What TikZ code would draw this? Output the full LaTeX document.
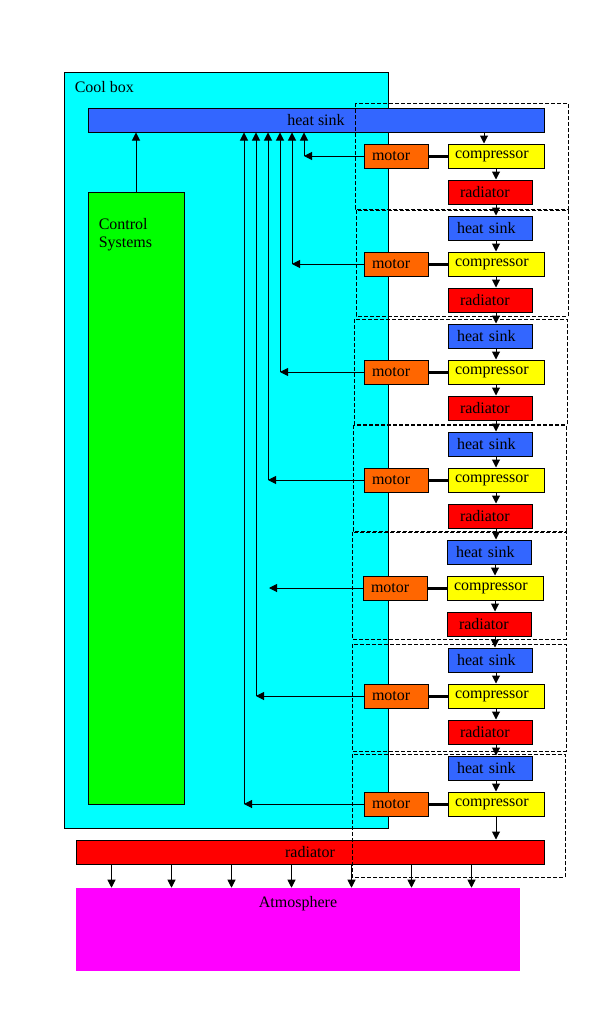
\documentclass[tikz,border=0pt]{standalone}
\usepackage{fontspec}
\setmainfont{Liberation Serif}
\usepackage{tikz}
\usetikzlibrary{positioning,arrows.meta,calc}
\definecolor{boxcyan}{HTML}{00FFFF}
\definecolor{sinkblue}{HTML}{3366FF}
\definecolor{ctrlgreen}{HTML}{00FF00}
\definecolor{compyellow}{HTML}{FFFF00}
\definecolor{radred}{HTML}{FF0000}
\definecolor{motororange}{HTML}{FF6600}
\definecolor{atmomagenta}{HTML}{FF00FF}
\begin{document}
\begin{tikzpicture}[
    x=0.75pt, y=-0.75pt,
    font=\fontsize{12pt}{13.5pt}\selectfont,
    part/.style     ={draw, line width=0.75pt, minimum height=18pt, inner ysep=0pt, align=left},
    motorbox/.style ={part, fill=motororange, text width=36pt, inner xsep=6pt},
    compbox/.style  ={part, fill=compyellow, text width=61.5pt, inner xsep=5.25pt},
    sinkbox/.style  ={part, fill=sinkblue, text width=49.5pt, inner xsep=6.75pt},
    radbox/.style   ={part, fill=radred, text width=45pt, inner xsep=9pt},
    arr/.style      ={-{Triangle[length=6pt, width=6pt]}, line width=0.75pt},
    shaft/.style    ={line width=2.25pt},
    frame/.style    ={line width=0.75pt, dash pattern=on 3pt off 1.5pt},
  ]
  \useasboundingbox (0,0) rectangle (601,1028);
  % cool box and its contents
  \node[draw, line width=0.75pt, fill=boxcyan, minimum width=243pt, minimum height=567pt, inner sep=0pt] (coolbox) at (226,450) {};
  \node[anchor=base west, inner sep=0pt] (coollabel) at ([xshift=8.25pt, yshift=-15.75pt]coolbox.north west) {Cool box};
  \node[draw, line width=0.75pt, fill=ctrlgreen, minimum width=72pt, minimum height=459pt, inner sep=0pt] (ctrl) at (136,498) {};
  \node[anchor=north west, inner sep=0pt, align=left] (ctrllabel) at ([xshift=8.25pt, yshift=-20pt]ctrl.north west) {Control\\Systems};
  \node[draw, line width=0.75pt, fill=sinkblue, minimum width=342pt, minimum height=18pt, inner sep=0pt] (topsink) at (316,120) {heat sink};
  \draw[arr] (ctrl.north) -- (ctrl.north |- topsink.south);
  % radiator and atmosphere
  \node[draw, line width=0.75pt, fill=radred, minimum width=351pt, minimum height=18pt, inner sep=0pt] (bigrad) at (310,852) {radiator};
  \node[fill=atmomagenta, minimum width=333pt, minimum height=62.25pt, inner sep=0pt] (atmos) at (298,929.5) {};
  \node[anchor=north, inner sep=0pt] (atmoslabel) at ([yshift=-6pt]atmos.north) {Atmosphere};
  \foreach \dx in {27,72,117,162,207,252,297}
    \draw[arr] ([xshift=\dx pt]bigrad.south west) -- ([xshift=\dx pt]bigrad.south west |- atmos.north);
  % unit frames
  \draw[frame] (355,103) rectangle (568,209);
  \draw[frame] (356,210) rectangle (568,316);
  \draw[frame] (354,319) rectangle (567,424);
  \draw[frame] (353,425) rectangle (566,531);
  \draw[frame] (352,532) rectangle (566,639);
  \draw[frame] (352,644) rectangle (566,751);
  \draw[frame] (352,754) rectangle (565,877);
  % unit 1
  \node[motorbox] (motor1) at (396,156) {motor};
  \node[compbox]  (comp1)  at (496,156) {compressor};
  \node[radbox]   (rad1)   at (490,192) {radiator};
  \draw[arr] ([xshift=-9pt]comp1.north |- topsink.south) -- ([xshift=-9pt]comp1.north);
  \draw[arr] (comp1.south) -- (comp1.south |- rad1.north);
  \draw[shaft] (motor1.east) -- (comp1.west);
  \coordinate (tap1) at (304,156);
  \draw[arr] (motor1.west) -- (tap1);
  \draw[arr] (tap1) -- (tap1 |- topsink.south);
  % unit 2
  \node[sinkbox]  (sink2)  at (490,228) {heat sink};
  \node[motorbox] (motor2) at (396,264) {motor};
  \node[compbox]  (comp2)  at (496,264) {compressor};
  \node[radbox]   (rad2)   at (490,300) {radiator};
  \draw[arr] (comp1.south |- rad1.south) -- (comp1.south |- sink2.north);
  \draw[arr] (comp2.north |- sink2.south) -- (comp2.north);
  \draw[arr] (comp2.south) -- (comp2.south |- rad2.north);
  \draw[shaft] (motor2.east) -- (comp2.west);
  \coordinate (tap2) at (292,264);
  \draw[arr] (motor2.west) -- (tap2);
  \draw[arr] (tap2) -- (tap2 |- topsink.south);
  % unit 3
  \node[sinkbox]  (sink3)  at (490,336) {heat sink};
  \node[motorbox] (motor3) at (396,372) {motor};
  \node[compbox]  (comp3)  at (496,372) {compressor};
  \node[radbox]   (rad3)   at (490,408) {radiator};
  \draw[arr] (comp2.south |- rad2.south) -- (comp2.south |- sink3.north);
  \draw[arr] (comp3.north |- sink3.south) -- (comp3.north);
  \draw[arr] (comp3.south) -- (comp3.south |- rad3.north);
  \draw[shaft] (motor3.east) -- (comp3.west);
  \coordinate (tap3) at (280,372);
  \draw[arr] (motor3.west) -- (tap3);
  \draw[arr] (tap3) -- (tap3 |- topsink.south);
  % unit 4
  \node[sinkbox]  (sink4)  at (490,444) {heat sink};
  \node[motorbox] (motor4) at (396,480) {motor};
  \node[compbox]  (comp4)  at (496,480) {compressor};
  \node[radbox]   (rad4)   at (490,516) {radiator};
  \draw[arr] (comp3.south |- rad3.south) -- (comp3.south |- sink4.north);
  \draw[arr] (comp4.north |- sink4.south) -- (comp4.north);
  \draw[arr] (comp4.south) -- (comp4.south |- rad4.north);
  \draw[shaft] (motor4.east) -- (comp4.west);
  \coordinate (tap4) at (268,480);
  \draw[arr] (motor4.west) -- (tap4);
  \draw[arr] (tap4) -- (tap4 |- topsink.south);
  % unit 5
  \node[sinkbox]  (sink5)  at (489,552) {heat sink};
  \node[motorbox] (motor5) at (395,588) {motor};
  \node[compbox]  (comp5)  at (495,588) {compressor};
  \node[radbox]   (rad5)   at (489,624) {radiator};
  \draw[arr] (comp4.south |- rad4.south) -- (comp4.south |- sink5.north);
  \draw[arr] (comp5.north |- sink5.south) -- (comp5.north);
  \draw[arr] (comp5.south) -- (comp5.south |- rad5.north);
  \draw[shaft] (motor5.east) -- (comp5.west);
  \coordinate (tap5) at (269,588);
  \draw[arr] (motor5.west) -- (tap5);
  % unit 6
  \node[sinkbox]  (sink6)  at (490,660) {heat sink};
  \node[motorbox] (motor6) at (396,696) {motor};
  \node[compbox]  (comp6)  at (496,696) {compressor};
  \node[radbox]   (rad6)   at (490,732) {radiator};
  \draw[arr] (comp5.south |- rad5.south) -- (comp5.south |- sink6.north);
  \draw[arr] (comp6.north |- sink6.south) -- (comp6.north);
  \draw[arr] (comp6.south) -- (comp6.south |- rad6.north);
  \draw[shaft] (motor6.east) -- (comp6.west);
  \coordinate (tap6) at (256,696);
  \draw[arr] (motor6.west) -- (tap6);
  \draw[arr] (tap6) -- (tap6 |- topsink.south);
  % unit 7
  \node[sinkbox]  (sink7)  at (490,768) {heat sink};
  \node[motorbox] (motor7) at (396,804) {motor};
  \node[compbox]  (comp7)  at (496,804) {compressor};
  \draw[arr] (comp6.south |- rad6.south) -- (comp6.south |- sink7.north);
  \draw[arr] (comp7.north |- sink7.south) -- (comp7.north);
  \draw[arr] (comp7.south) -- (comp7.south |- bigrad.north);
  \draw[shaft] (motor7.east) -- (comp7.west);
  \coordinate (tap7) at (244,804);
  \draw[arr] (motor7.west) -- (tap7);
  \draw[arr] (tap7) -- (tap7 |- topsink.south);
\end{tikzpicture}
\end{document}
